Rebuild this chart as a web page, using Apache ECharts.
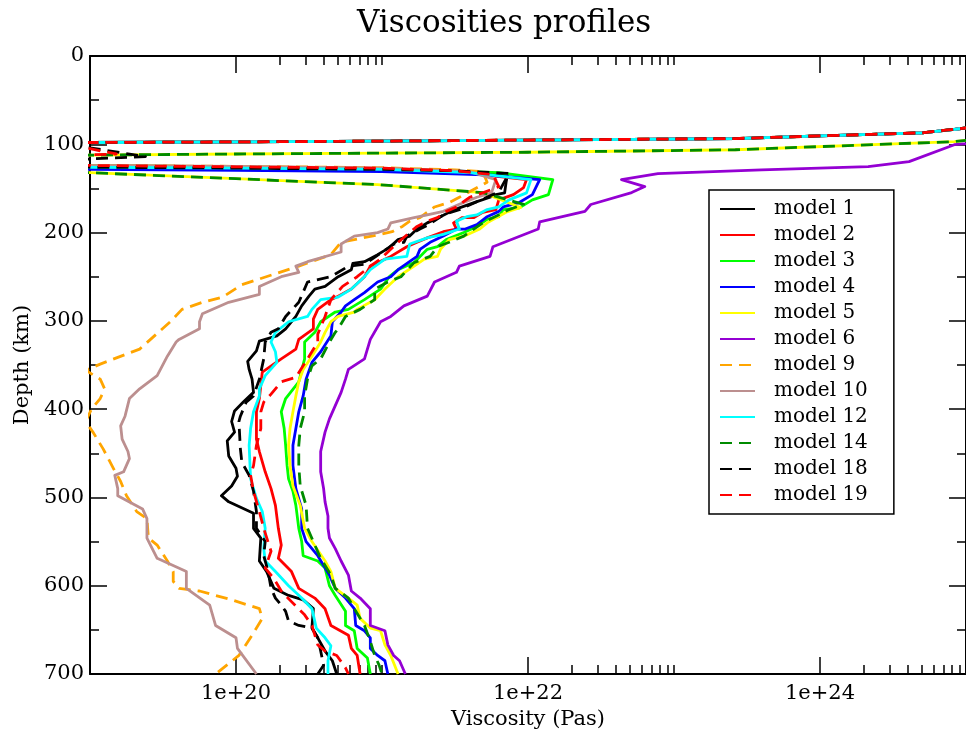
<!DOCTYPE html>
<html><head><meta charset="utf-8">
<script src="https://cdn.jsdelivr.net/npm/echarts@6/dist/echarts.min.js"></script>
<style>html,body{margin:0;padding:0;background:#fff}#c{width:966px;height:735px}</style>
</head><body><div id="c"></div>
<script>
// Each point: [log10 of viscosity (Pa s), depth (km)]
const lithTopA = [[25.3,76],[24.92,83],[24.7,87],[24.0,90.5],[23.42,93.5],[22,95.2],[21,96.4],[20,97.3],[19,98],[18.7,98.3]];
const lithTopB = [[25.4,88],[24.92,97],[23.42,106.2],[22,109],[21,110],[20,111],[19,112.2],[18.7,112.5]];

const model1 = lithTopA.concat([[18.7,124],[19,126.5],[20,127.5],[21,129],[21.5,131],[21.86,134],[21.85,143],[21.84,155],[21.78,157],[21.74,160],[21.65,165],[21.53,172],[21.46,177],[21.40,182],[21.31,189],[21.24,196],[21.19,204],[21.11,208],[21.05,217],[20.97,225],[20.88,233],[20.80,235],[20.79,242],[20.70,250],[20.61,261],[20.54,264],[20.50,272],[20.45,283],[20.41,295],[20.34,309],[20.28,317],[20.16,323],[20.14,334],[20.08,346],[20.09,355],[20.11,366],[20.12,381],[20.05,392],[19.99,402],[19.97,414],[19.99,426],[19.94,436],[19.95,453],[20.0,467],[20.01,476],[19.97,487],[19.90,498],[19.95,505],[20.12,518],[20.12,535],[20.17,546],[20.16,572],[20.21,584],[20.26,603],[20.36,611],[20.46,616],[20.53,626],[20.52,648],[20.56,659],[20.61,674],[20.66,685],[20.69,700]]);

const model2 = lithTopA.concat([[18.7,124],[19,126],[20,127.5],[21,129.5],[21.6,133],[21.99,140],[21.97,149],[21.90,157],[21.80,163],[21.78,174],[21.69,177],[21.63,183],[21.55,183],[21.49,189],[21.51,196],[21.42,199],[21.31,206],[21.24,211],[21.17,216],[21.06,227],[20.92,238],[20.88,250],[20.79,264],[20.70,272],[20.65,276],[20.56,287],[20.53,298],[20.53,309],[20.43,321],[20.41,332],[20.31,343],[20.18,358],[20.16,388],[20.14,403],[20.14,434],[20.16,448],[20.20,471],[20.24,490],[20.27,509],[20.29,535],[20.31,554],[20.29,569],[20.38,584],[20.43,603],[20.54,614],[20.61,626],[20.65,645],[20.77,656],[20.79,671],[20.83,679],[20.85,700]]);

const model3 = lithTopA.concat([[18.7,122],[19,124],[20,125.5],[21,127.5],[21.8,132],[22.17,140],[22.14,157],[22.03,163],[21.94,172],[21.83,174],[21.80,182],[21.72,185],[21.65,193],[21.56,200],[21.44,208],[21.38,216],[21.31,219],[21.22,234],[21.11,242],[21.05,250],[20.99,264],[20.88,276],[20.77,287],[20.68,290],[20.58,301],[20.54,313],[20.47,324],[20.47,343],[20.43,369],[20.34,388],[20.31,403],[20.33,422],[20.34,441],[20.35,464],[20.36,479],[20.39,493],[20.41,509],[20.43,535],[20.45,550],[20.46,566],[20.56,572],[20.61,580],[20.64,600],[20.68,611],[20.75,629],[20.75,645],[20.81,651],[20.83,671],[20.90,682],[20.92,700]]);

const model4 = lithTopA.concat([[18.7,126],[19,128.5],[20,129.5],[21,131],[21.7,134.5],[22.08,140],[22.03,157],[21.94,166],[21.83,171],[21.80,176],[21.72,182],[21.65,191],[21.57,196],[21.51,196],[21.42,204],[21.33,211],[21.26,219],[21.24,227],[21.11,242],[21.06,250],[20.97,256],[20.88,268],[20.81,276],[20.75,283],[20.72,290],[20.66,301],[20.65,317],[20.58,335],[20.52,347],[20.48,366],[20.46,385],[20.43,403],[20.41,422],[20.39,441],[20.39,464],[20.41,490],[20.45,513],[20.45,535],[20.48,550],[20.56,566],[20.64,588],[20.68,603],[20.75,614],[20.81,626],[20.82,645],[20.88,651],[20.92,659],[20.92,671],[20.97,679],[21.02,685],[21.04,700]]);

const model5 = lithTopB.concat([[18.7,131],[19,132.2],[20,139],[20.63,143.4],[20.97,145.6],[21.69,154.7],[21.95,171.6],[21.85,177],[21.72,189],[21.67,196],[21.56,204],[21.46,208],[21.40,219],[21.38,227],[21.29,230],[21.22,238],[21.11,250],[21.02,264],[20.95,276],[20.83,287],[20.81,290],[20.70,295],[20.65,301],[20.61,313],[20.58,324],[20.52,340],[20.46,355],[20.43,369],[20.41,385],[20.39,403],[20.37,422],[20.36,441],[20.37,464],[20.39,487],[20.44,509],[20.47,535],[20.52,550],[20.61,572],[20.65,584],[20.68,603],[20.77,614],[20.83,622],[20.85,637],[20.92,648],[20.99,651],[21.02,667],[21.06,679],[21.11,700]]);

const model6 = [[25.5,92],[24.92,100.5],[24.61,119.7],[24.33,125.4],[23.6,129],[22.89,133.2],[22.64,140],[22.80,147.9],[22.71,154.7],[22.43,168.2],[22.39,176.1],[22.08,188],[22.07,196],[21.76,216],[21.74,227],[21.53,238],[21.51,245],[21.36,256],[21.31,272],[21.15,283],[21.06,295],[20.99,301],[20.92,321],[20.88,343],[20.77,355],[20.75,366],[20.72,381],[20.68,396],[20.64,411],[20.61,426],[20.58,448],[20.58,471],[20.60,490],[20.61,505],[20.63,521],[20.63,535],[20.64,546],[20.68,558],[20.72,572],[20.77,588],[20.79,606],[20.85,614],[20.92,626],[20.92,645],[21.02,651],[21.04,667],[21.08,679],[21.12,685],[21.16,700]];

const model9 = lithTopA.concat([[18.7,122],[19,124],[20,125],[21,126.5],[21.5,129],[21.69,131],[21.72,143],[21.53,160],[21.46,166],[21.36,171],[21.31,177],[21.26,183],[21.19,187],[21.14,193],[21.07,199],[20.99,202],[20.72,211],[20.65,225],[20.43,238],[20.04,259],[19.91,273],[19.77,279],[19.63,287],[19.55,301],[19.34,332],[19.07,349],[18.97,356],[19.07,366],[19.10,377],[19.07,388],[19.01,400],[18.97,414],[19.02,426],[19.09,445],[19.16,467],[19.21,482],[19.25,498],[19.32,516],[19.39,524],[19.40,546],[19.46,554],[19.53,572],[19.57,584],[19.57,595],[19.61,603],[19.75,606],[19.97,616],[20.16,626],[20.18,637],[20.11,656],[20.02,679],[19.86,700]]);

const model10 = lithTopA.concat([[18.7,122],[19,124],[20,125],[21,127],[21.6,131],[21.78,140],[21.75,155],[21.65,160],[21.53,168],[21.42,176],[21.31,180],[21.22,183],[21.06,189],[21.04,196],[20.97,200],[20.81,204],[20.72,213],[20.72,222],[20.49,233],[20.41,238],[20.43,245],[20.31,250],[20.16,261],[20.16,270],[19.95,279],[19.77,292],[19.75,301],[19.75,309],[19.61,321],[19.59,324],[19.53,340],[19.46,362],[19.34,377],[19.27,388],[19.24,408],[19.21,419],[19.22,434],[19.26,448],[19.27,456],[19.23,471],[19.17,475],[19.19,490],[19.19,498],[19.36,513],[19.39,524],[19.39,546],[19.46,569],[19.66,584],[19.66,603],[19.82,622],[19.86,645],[20.0,659],[20.01,671],[20.14,700]]);

const model12 = lithTopA.concat([[18.7,124],[19,126],[20,127],[21,128.5],[21.6,132],[22.02,140],[21.99,155],[21.87,163],[21.80,171],[21.72,174],[21.65,180],[21.58,182],[21.51,187],[21.53,196],[21.42,202],[21.31,206],[21.19,213],[21.17,227],[21.02,230],[20.92,242],[20.88,250],[20.79,264],[20.70,273],[20.58,276],[20.52,287],[20.49,295],[20.36,301],[20.27,313],[20.24,324],[20.27,335],[20.28,347],[20.20,362],[20.16,377],[20.16,385],[20.12,403],[20.10,422],[20.09,441],[20.10,479],[20.14,501],[20.18,516],[20.20,535],[20.19,558],[20.20,572],[20.27,584],[20.36,600],[20.45,614],[20.52,626],[20.55,648],[20.61,659],[20.65,668],[20.63,685],[20.63,700]]);

const model14 = lithTopB.concat([[18.7,131],[19,132.2],[20,139],[20.63,143.4],[20.97,145.6],[21.69,154.7],[21.97,168],[21.87,174],[21.69,189],[21.56,204],[21.46,211],[21.38,216],[21.33,227],[21.22,234],[21.13,250],[21.04,256],[20.95,264],[20.95,276],[20.85,287],[20.75,295],[20.70,309],[20.68,313],[20.64,324],[20.58,343],[20.52,351],[20.49,366],[20.47,385],[20.47,403],[20.44,422],[20.43,441],[20.43,464],[20.44,487],[20.48,509],[20.49,535],[20.54,554],[20.58,569],[20.65,588],[20.68,603],[20.77,614],[20.81,626],[20.88,645],[20.92,663],[20.95,679],[20.98,690],[21.0,700]]);

const model18 = lithTopA.concat([[19.0,104],[19.38,114],[18.8,118],[18.7,124],[19,126],[20,127],[21,128.5],[21.5,130],[21.87,133],[21.80,154],[21.65,165],[21.53,174],[21.42,180],[21.31,192],[21.26,196],[21.17,204],[21.15,211],[21.08,213],[20.88,236],[20.77,238],[20.65,250],[20.49,256],[20.43,279],[20.34,295],[20.29,309],[20.24,313],[20.20,324],[20.19,343],[20.16,366],[20.12,385],[20.07,392],[20.03,408],[20.02,414],[20.03,445],[20.04,460],[20.09,475],[20.12,493],[20.14,516],[20.14,535],[20.20,550],[20.19,566],[20.22,584],[20.24,603],[20.27,614],[20.31,622],[20.34,629],[20.36,640],[20.43,645],[20.52,648],[20.56,659],[20.58,674],[20.60,690],[20.56,700]]);

const model19 = lithTopA.concat([[19.0,105],[19.18,111],[18.8,113],[18.7,122],[19,124],[20,125.5],[21,127],[21.5,130],[21.76,134.4],[21.80,148],[21.69,155],[21.60,160],[21.51,171],[21.44,176],[21.38,183],[21.31,187],[21.24,193],[21.11,211],[20.99,230],[20.92,238],[20.83,250],[20.73,261],[20.65,276],[20.61,295],[20.56,315],[20.56,324],[20.49,343],[20.41,364],[20.31,369],[20.24,383],[20.19,392],[20.17,403],[20.17,422],[20.14,441],[20.12,464],[20.10,475],[20.12,493],[20.16,516],[20.19,535],[20.24,561],[20.20,580],[20.26,592],[20.31,606],[20.38,618],[20.47,633],[20.52,645],[20.56,667],[20.61,674],[20.69,679],[20.75,693],[20.77,700]]);

const seriesNames = ['model 1','model 2','model 3','model 4','model 5','model 6','model 9','model 10','model 12','model 14','model 18','model 19'];
const seriesData = [model1, model2, model3, model4, model5, model6, model9, model10, model12, model14, model18, model19];
const seriesColors = ['#000000','#ff0000','#00ff00','#0000ff','#ffff00','#9400d3','#ffa500','#bc8f8f','#00ffff','#008b00','#000000','#ff0000'];
const seriesDashed = [false,false,false,false,false,false,true,false,false,true,true,true];

const xMajorTickValues = [1e20, 1e22, 1e24];
const xMinorTickValues = [2e20,3e20,4e20,5e20,6e20,7e20,8e20,9e20,1e21, 2e22,3e22,4e22,5e22,6e22,7e22,8e22,9e22,1e23, 2e24,3e24,4e24,5e24,6e24,7e24,8e24,9e24];
const depthTicks = {min: 0, max: 700, interval: 100};

const FONT = 'DejaVu Serif';
const BLACK = '#000';

function xAxisCfg(position, ticks, len, isMain) {
  return {
    type: 'log', logBase: 10, min: 1e19, max: 1e25, position: position, gridIndex: 0,
    axisLine: {show: isMain, onZero: false, lineStyle: {color: BLACK, width: 2}},
    axisTick: {show: true, inside: true, length: len, customValues: ticks, lineStyle: {color: BLACK, width: 1.5}},
    minorTick: {show: false},
    axisLabel: (isMain && position === 'bottom') ? {
      show: true, customValues: ticks, margin: 9,
      formatter: v => '1e+' + Math.round(Math.log10(v)),
      fontFamily: FONT, fontSize: 21, color: BLACK
    } : {show: false},
    splitLine: {show: false},
    name: (isMain && position === 'bottom') ? 'Viscosity (Pas)' : '',
    nameLocation: 'middle', nameGap: 35,
    nameTextStyle: {fontFamily: FONT, fontSize: 21, color: BLACK}
  };
}
function yAxisCfg(position) {
  const main = position === 'left';
  return {
    type: 'value', inverse: true, min: depthTicks.min, max: depthTicks.max, interval: depthTicks.interval, position: position,
    axisLine: {show: true, onZero: false, lineStyle: {color: BLACK, width: 2}},
    axisTick: {show: true, inside: true, length: 17, lineStyle: {color: BLACK, width: 1.5}},
    minorTick: {show: true, splitNumber: 2, length: 9, lineStyle: {color: BLACK, width: 1.5}},
    axisLabel: main ? {show: true, margin: 6, fontFamily: FONT, fontSize: 21, color: BLACK} : {show: false},
    splitLine: {show: false},
    name: main ? 'Depth (km)' : '',
    nameLocation: 'middle', nameGap: 56, nameRotate: 90,
    nameTextStyle: {fontFamily: FONT, fontSize: 21, color: BLACK}
  };
}

const chart = echarts.init(document.getElementById('c'), null, {renderer: 'canvas'});
chart.setOption({
  animation: false,
  backgroundColor: '#fff',
  title: {
    text: 'Viscosities profiles', left: 352, top: 3, padding: 5,
    textStyle: {fontFamily: FONT, fontSize: 31, fontWeight: 'normal', color: BLACK}
  },
  grid: {left: 90, right: -9, top: 56, bottom: 59, containLabel: false},
  xAxis: [
    xAxisCfg('bottom', xMajorTickValues, 17, true),
    xAxisCfg('bottom', xMinorTickValues, 9, false),
    xAxisCfg('top', xMajorTickValues, 17, true),
    xAxisCfg('top', xMinorTickValues, 9, false)
  ],
  yAxis: [yAxisCfg('left'), yAxisCfg('right')],
  legend: {
    orient: 'vertical', left: 709, top: 190,
    padding: [9, 26, 9, 10], itemWidth: 35, itemHeight: 20, itemGap: 6,
    borderColor: BLACK, borderWidth: 1.5, backgroundColor: '#fff',
    itemStyle: {opacity: 0},
    textStyle: {fontFamily: FONT, fontSize: 20, color: BLACK, padding: [0, 0, 0, 14]},
    data: seriesNames
  },
  series: seriesNames.map((name, i) => ({
    name: name, type: 'line', xAxisIndex: 0, yAxisIndex: 0,
    symbol: 'none', showSymbol: false, clip: true,
    color: seriesColors[i],
    lineStyle: {color: seriesColors[i], width: 2.8, type: seriesDashed[i] ? [12, 7] : 'solid', join: 'round'},
    data: seriesData[i].map(p => [Math.pow(10, p[0]), p[1]])
  }))
});
</script></body></html>
